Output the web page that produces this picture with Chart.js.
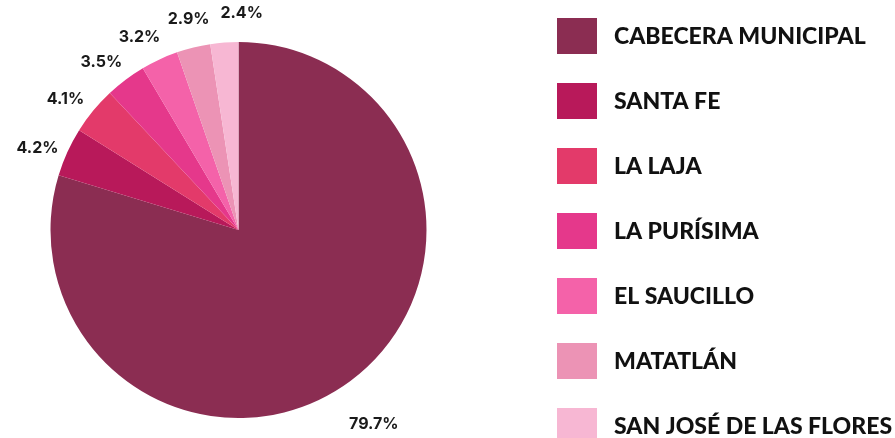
<!DOCTYPE html>
<html>
<head>
<meta charset="utf-8">
<script src="https://cdn.jsdelivr.net/npm/chart.js@4/dist/chart.umd.min.js"></script>
<style>
html,body{margin:0;padding:0;background:#fff;}
#wrap{position:relative;width:895px;height:438px;}
</style>
</head>
<body>
<div id="wrap"><canvas id="c" width="895" height="438"></canvas></div>
<script>
const categories = ["CABECERA MUNICIPAL","SANTA FE","LA LAJA","LA PURÍSIMA","EL SAUCILLO","MATATLÁN","SAN JOSÉ DE LAS FLORES"];
const shares = [79.7, 4.2, 4.1, 3.5, 3.2, 2.9, 2.4];
const colors = ["#8B2D52","#B8195A","#E33A6A","#E5388B","#F462A9","#EC93B5","#F7B7D3"];

const labelPlugin = {
  id: 'outerLabels',
  afterDraw(chart) {
    const ctx = chart.ctx;
    const meta = chart.getDatasetMeta(0);
    ctx.save();
    ctx.font = 'bold 16px Inter';
    ctx.fillStyle = '#1a1a1a';
    ctx.textAlign = 'center';
    ctx.textBaseline = 'middle';
    let prev = null;
    meta.data.forEach((arc, i) => {
      const p = arc.getProps(['x','y','startAngle','endAngle','outerRadius'], true);
      const txt = shares[i].toFixed(1) + '%';
      const w = ctx.measureText(txt).width, h = 14;
      let mid = (p.startAngle + p.endAngle) / 2 - (shares[i] < 50 ? 0.04 : -0.03);
      const off = shares[i] > 50 ? 49 : 29;
      const r = p.outerRadius + off;
      let x, y, box;
      for (let k = 0; k < 60; k++) {
        x = p.x + Math.cos(mid) * r;
        y = p.y + Math.sin(mid) * r;
        box = {l: x - w/2, r: x + w/2, t: y - h/2, b: y + h/2};
        if (!prev || box.l > prev.r + 10 || box.r < prev.l - 10 || box.t > prev.b + 4 || box.b < prev.t - 4) break;
        mid += 0.005;
      }
      prev = box;
      ctx.fillText(txt, x, y);
    });
    ctx.restore();

    // legend
    ctx.save();
    ctx.font = '900 23px Lato';
    ctx.textBaseline = 'middle';
    ctx.textAlign = 'left';
    chart.data.labels.forEach((lab, i) => {
      const bx = 557, by = 18 + 65 * i;
      ctx.fillStyle = chart.data.datasets[0].backgroundColor[i];
      ctx.fillRect(bx, by, 40, 36);
      ctx.fillStyle = '#111';
      ctx.fillText(lab, 614, by + 19);
    });
    ctx.restore();
  }
};

new Chart(document.getElementById('c'), {
  type: 'pie',
  data: {
    labels: categories,
    datasets: [{
      data: shares,
      backgroundColor: colors,
      borderWidth: 0
    }]
  },
  options: {
    responsive: false,
    animation: false,
    layout: { padding: { top: 42, bottom: 20, left: 50, right: 468 } },
    plugins: {
      legend: { display: false },
      tooltip: { enabled: false }
    }
  },
  plugins: [labelPlugin]
});
</script>
</body>
</html>
